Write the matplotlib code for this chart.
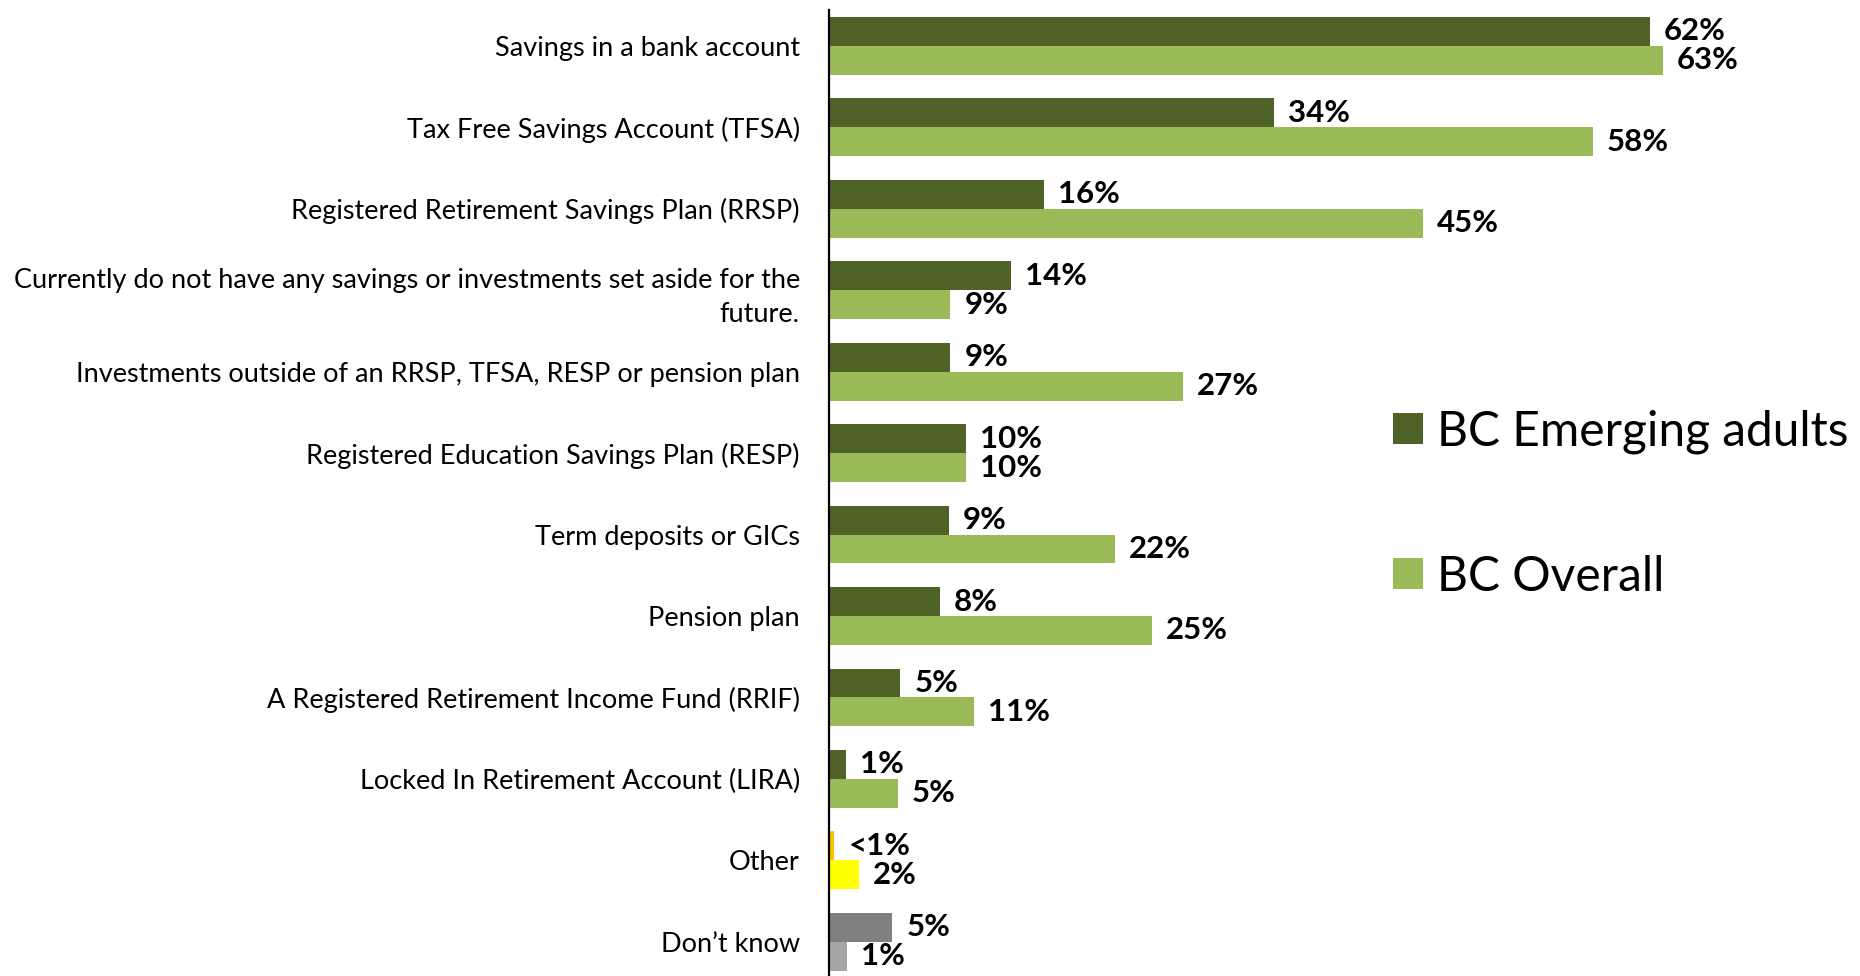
import numpy as np
import matplotlib
matplotlib.use("Agg")
from matplotlib import pyplot as plt
from matplotlib.patches import Patch

plt.rcParams['font.family'] = ['Lato', 'DejaVu Sans']

#Categories, top to bottom
categories = ['Savings in a bank account',
              'Tax Free Savings Account (TFSA)',
              'Registered Retirement Savings Plan (RRSP)',
              'Currently do not have any savings or investments set aside for the\nfuture.',
              'Investments outside of an RRSP, TFSA, RESP or pension plan',
              'Registered Education Savings Plan (RESP)',
              'Term deposits or GICs',
              'Pension plan',
              'A Registered Retirement Income Fund (RRIF)',
              'Locked In Retirement Account (LIRA)',
              'Other',
              'Don\u2019t know']

#Values (percent)
emerging = [62.2, 33.7, 16.3, 13.8, 9.2, 10.4, 9.1, 8.4, 5.4, 1.3, 0.4, 4.8]
overall = [63.2, 57.9, 45.0, 9.2, 26.8, 10.4, 21.7, 24.5, 11.0, 5.2, 2.3, 1.4]

emerging_labels = ['62%', '34%', '16%', '14%', '9%', '10%', '9%', '8%', '5%', '1%', '<1%', '5%']
overall_labels = ['63%', '58%', '45%', '9%', '27%', '10%', '22%', '25%', '11%', '5%', '2%', '1%']

dark_green = '#4F6228'
light_green = '#9BBB59'
emerging_colors = [dark_green] * 10 + ['#FFC000', '#808080']
overall_colors = [light_green] * 10 + ['#FFFF00', '#A6A6A6']

fig = plt.figure(figsize=(18.6, 9.76), dpi=100)
ax = fig.add_axes([829 / 1860, 0.0, 1 - 829 / 1860 - 0.02, (976 - 10) / 976])

y = np.arange(len(categories))
h = 0.355

bars_e = ax.barh(y - h / 2, emerging, height=h, color=emerging_colors)
bars_o = ax.barh(y + h / 2, overall, height=h, color=overall_colors)

for bars, labels in ((bars_e, emerging_labels), (bars_o, overall_labels)):
    for b, lab in zip(bars, labels):
        ax.annotate(lab, (b.get_width(), b.get_y() + b.get_height() / 2),
                    xytext=(10, 0), textcoords='offset points',
                    ha='left', va='center', fontsize=22.5, fontweight='bold')

ax.set_xlim(0, 75.3)
ax.set_ylim(11.42, -0.44)
ax.set_yticks(y)
ax.set_yticklabels(categories, fontsize=19.5, linespacing=1.45)
ax.tick_params(axis='y', length=0, pad=21)
ax.set_xticks([])
for s in ('top', 'right', 'bottom'):
    ax.spines[s].set_visible(False)
ax.spines['left'].set_linewidth(1.6)
ax.spines['left'].set_color('black')

handles = [Patch(facecolor=dark_green), Patch(facecolor=light_green)]
fig.legend(handles, ['BC Emerging adults', 'BC Overall'], loc='center left',
           bbox_to_anchor=(1393 / 1860, 1 - 504 / 976), frameon=False,
           fontsize=34.5, labelspacing=2.1, handlelength=0.62, handleheight=0.62,
           handletextpad=0.3, borderpad=0, borderaxespad=0)

fig.savefig('out.png', dpi=100)
